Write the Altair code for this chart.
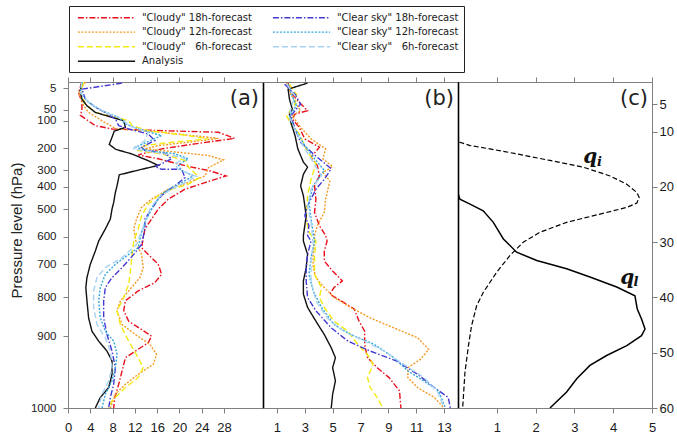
import altair as alt
import pandas as pd

# ---------------- series definitions ----------------
SERIES = ['"Cloudy" 18h-forecast', '"Cloudy" 12h-forecast', '"Cloudy" \u20076h-forecast', 'Analysis',
          '"Clear sky" 18h-forecast', '"Clear sky" 12h-forecast', '"Clear sky" \u20076h-forecast']
COLORS = ['#e8101c', '#f59a25', '#f2ea12', '#111111', '#4338d2', '#35a7dc', '#a9d3f2']
DASHES = [[6, 2, 1.5, 2], [2, 1.5], [6, 3], [1, 0], [6, 2, 1.5, 2], [2, 1.5], [6, 3]]

# y axis: model level (1 = top, 60 = bottom); left axis shows pressure labels
PRESSURE_LABELS = [5, 50, 100, 200, 300, 400, 500, 600, 700, 800, 900, 1000]
PRESSURE_LEVELS = [2.1, 6, 8, 13, 17, 20, 24, 29, 34, 40, 47, 60]
LEVEL_TICKS = [5, 10, 20, 30, 40, 50, 60]

A_TICKS = [0, 4, 8, 12, 16, 20, 24, 28]
B_TICKS = [1, 3, 5, 7, 9, 11, 13]
C_TICKS = [1, 2, 3, 4, 5]

# ---------------- panel (a): (value, model level) ----------------
A_CLOUDY18 = [(2.5,1.0),(1.9,2.9),(2.5,4.7),(2.5,6.2),(2.2,7.0),(4.9,8.9),(7.9,9.5),(16.8,9.8),(27.0,10.1),(29.9,11.2),
              (22.8,12.2),(16.8,13.1),(12.6,14.2),(16.2,14.9),(21.6,16.3),(25.2,17.0),(28.4,18.0),(24.6,19.2),(21.0,20.4),
              (18.0,22.2),(16.2,24.0),(15.0,25.8),(13.8,27.6),(13.2,31.0),(14.4,32.2),(16.2,34.0),(16.8,35.8),(15.6,37.3),
              (12.6,38.8),(10.3,40.6),(10.0,42.4),(10.9,44.3),(13.2,45.8),(15.0,47.0),(14.4,48.2),(12.1,49.7),(10.3,50.9),
              (9.7,53.3),(9.1,55.7),(8.4,58.1),(8.2,60.0)]
A_CLEAR18 = [(9.7,1.2),(2.5,2.3),(3.1,4.1),(4.9,5.6),(6.7,6.5),(8.5,7.7),(9.1,8.9),(10.9,9.5),(14.4,10.4),(15.6,11.6),
             (13.2,12.8),(13.8,13.4),(17.4,13.9),(18.6,14.9),(16.8,15.8),(15.6,16.3),(16.8,16.8),(20.4,16.8),(21.0,18.3),
             (19.2,19.8),(17.4,21.0),(16.2,22.2),(15.0,24.0),(13.8,25.8),(13.8,27.6),(13.2,30.4),(11.8,32.2),(9.7,34.6),
             (7.9,36.4),(6.7,38.2),(6.4,40.6),(6.4,43.7),(7.0,46.7),(7.9,49.7),(8.5,52.7),(8.2,55.7),(7.6,58.1),(7.3,60.0)]
A_CLOUDY12 = [(3.1,1.0),(1.9,2.9),(2.8,5.3),(3.7,6.5),(6.1,8.0),(8.5,9.4),(16.8,10.1),(27.0,11.2),(21.6,11.9),(16.2,12.5),
              (13.8,13.1),(18.6,13.6),(25.2,14.3),(27.9,15.1),(25.2,16.5),(24.6,18.0),(21.6,19.2),(18.0,20.4),(15.0,22.2),
              (13.2,23.7),(12.3,25.8),(11.8,27.6),(12.3,30.4),(13.2,32.2),(13.5,34.6),(12.9,36.4),(10.9,38.8),(9.4,40.6),
              (8.8,42.4),(9.7,44.9),(12.1,46.7),(14.7,48.5),(15.9,50.3),(15.3,52.1),(12.6,53.9),(10.3,55.7),(8.5,57.5),(7.6,60.0)]
A_CLEAR12 = [(2.5,1.0),(2.2,2.9),(3.7,4.7),(6.1,6.2),(9.1,7.4),(10.3,8.6),(12.6,9.5),(16.8,10.7),(12.1,12.8),(14.4,13.4),
             (19.2,14.0),(21.6,14.9),(19.8,16.0),(20.4,17.0),(22.5,18.0),(20.4,19.2),(18.6,20.1),(16.8,21.3),(15.3,23.4),
             (14.1,25.8),(13.2,28.2),(12.6,31.0),(10.9,32.2),(8.5,34.0),(6.7,35.8),(5.8,38.2),(5.5,40.6),(5.8,43.7),(6.7,46.1),
             (8.2,47.9),(8.8,50.3),(8.5,52.7),(7.9,55.1),(6.7,57.5),(6.1,60.0)]
A_CLOUDY6 = [(2.8,1.0),(2.2,2.9),(3.1,5.0),(4.9,6.5),(8.5,7.4),(10.9,8.0),(11.5,8.9),(14.4,9.8),(21.6,10.7),(25.2,11.3),
             (18.6,11.9),(13.8,12.5),(12.6,13.4),(16.8,14.0),(21.0,15.2),(21.6,16.4),(23.6,18.3),(21.6,19.5),(18.6,20.4),
             (16.2,21.6),(14.4,23.1),(13.2,25.2),(12.6,27.6),(11.8,29.8),(11.5,32.2),(11.2,35.2),(10.9,37.6),(10.0,40.0),
             (8.8,42.4),(9.4,44.9),(10.9,47.9),(12.6,50.9),(13.5,52.7),(12.6,54.5),(10.3,56.3),(7.9,58.7),(7.3,60.0)]
A_CLEAR6 = [(2.5,1.0),(2.2,2.9),(4.0,5.0),(6.7,6.5),(9.7,7.7),(10.9,8.9),(14.4,10.1),(13.8,11.6),(11.8,13.1),(16.8,13.9),
            (21.0,14.8),(19.2,15.8),(19.8,16.8),(23.1,18.1),(21.0,19.2),(18.6,20.4),(16.2,21.9),(14.7,24.0),(13.8,26.4),
            (12.9,28.8),(12.3,30.4),(9.7,32.8),(6.7,34.6),(5.2,36.4),(4.6,38.8),(4.6,41.8),(5.2,44.9),(6.7,47.3),(7.6,49.7),
            (7.9,52.7),(7.3,55.1),(6.1,57.5),(5.5,60.0)]
A_ANALYSIS = [(2.5,1.0),(2.2,2.6),(2.5,4.1),(3.4,5.3),(4.9,6.5),(7.9,7.4),(10.0,8.0),(10.3,9.2),(8.3,9.9),(7.9,11.0),
              (7.4,12.3),(8.6,13.2),(11.4,14.0),(14.3,15.2),(16.2,16.1),(12.8,16.9),(9.2,17.8),(8.8,19.8),(8.5,21.0),
              (8.2,22.8),(7.9,24.0),(7.6,25.8),(6.7,27.6),(5.5,29.8),(4.9,31.6),(4.0,34.0),(3.4,36.4),(3.2,38.2),(3.4,40.6),
              (3.7,43.7),(4.3,46.1),(5.5,47.9),(7.0,49.7),(7.9,51.5),(7.9,53.9),(7.3,56.3),(5.8,58.1),(4.9,60.0)]

# ---------------- panel (b) ----------------
B_CLOUDY18 = [(1.8,1.2),(2.0,2.9),(2.5,4.4),(3.2,6.2),(2.3,6.8),(2.1,7.7),(2.6,9.2),(3.0,11.3),(4.05,12.8),(3.45,14.6),
              (3.9,16.1),(4.05,18.0),(3.7,19.8),(3.8,22.2),(3.7,24.6),(4.05,27.0),(4.5,28.8),(4.6,29.8),(4.4,31.6),(4.4,33.4),
              (5.0,35.2),(5.7,37.0),(5.1,38.2),(4.8,39.4),(5.6,40.6),(6.55,42.1),(6.9,44.3),(7.3,46.1),(7.3,48.5),(7.5,50.9),
              (8.2,52.7),(9.05,54.5),(9.8,56.9),(9.9,60.0)]
B_CLEAR18 = [(1.55,1.4),(2.3,3.2),(2.7,5.0),(2.0,7.1),(2.3,9.5),(2.7,11.9),(3.6,14.0),(4.9,16.7),(4.4,18.6),(3.8,20.4),
             (3.2,23.4),(3.0,25.2),(3.3,27.0),(3.2,28.8),(3.45,29.8),(3.2,32.2),(3.1,34.6),(3.1,37.0),(3.2,40.0),(3.8,42.4),
             (4.9,45.5),(6.1,47.9),(7.7,49.7),(9.6,51.5),(11.1,53.9),(12.3,56.3),(13.3,58.1),(13.45,60.0)]
B_CLOUDY12 = [(1.7,1.2),(2.0,3.2),(2.3,4.7),(2.7,6.2),(2.1,7.1),(2.7,9.2),(3.45,11.3),(4.5,13.1),(4.3,14.9),(5.0,16.3),
              (4.3,17.4),(4.8,18.9),(4.5,22.2),(4.4,24.6),(3.9,27.0),(3.7,28.8),(3.7,29.8),(3.6,32.2),(3.6,34.6),(3.8,36.4),
              (4.4,38.2),(5.1,40.0),(6.3,41.8),(7.7,43.7),(9.4,45.5),(11.1,47.3),(11.9,49.4),(11.3,51.2),(10.4,52.7),
              (10.4,54.5),(11.1,56.3),(12.3,58.1),(13.0,60.0)]
B_CLEAR12 = [(1.8,1.4),(2.1,3.5),(2.4,5.3),(1.9,7.1),(2.3,9.5),(3.0,12.5),(3.7,14.9),(4.4,17.0),(3.6,19.8),(3.3,22.8),
             (3.45,25.8),(3.6,28.2),(3.7,29.8),(3.45,32.8),(3.3,35.8),(3.6,38.8),(4.2,41.8),(5.1,44.9),(6.3,46.7),(8.0,48.5),
             (9.4,50.9),(10.4,53.3),(11.55,55.1),(12.6,56.9),(13.1,60.0)]
B_CLOUDY6 = [(1.9,1.4),(2.4,3.2),(2.3,5.0),(1.7,7.1),(2.0,8.6),(2.6,10.4),(3.2,13.7),(3.8,15.8),(3.45,18.6),(3.2,21.6),
             (3.1,25.8),(3.3,28.2),(3.8,29.8),(3.7,32.8),(3.7,35.8),(4.2,38.2),(4.05,40.0),(4.4,41.8),(5.1,44.3),(6.1,46.1),
             (6.8,48.5),(7.5,50.3),(7.9,52.1),(7.5,54.5),(7.7,56.3),(8.2,58.1),(8.6,60.0)]
B_CLEAR6 = [(1.7,1.4),(2.3,3.5),(2.0,5.9),(1.9,7.4),(2.4,10.1),(3.0,13.1),(3.6,15.5),(4.2,18.0),(3.45,20.4),(3.2,23.4),
            (3.45,26.4),(3.6,30.3),(3.45,33.4),(3.45,37.0),(3.8,40.6),(4.6,43.7),(5.8,46.1),(7.3,47.9),(8.7,49.7),(10.1,52.1),
            (11.55,54.5),(12.5,56.9),(13.0,60.0)]
B_ANALYSIS = [(3.2,1.2),(1.8,2.3),(1.9,4.1),(2.1,5.9),(1.9,6.8),(2.0,8.3),(2.3,10.7),(2.5,13.1),(2.9,15.5),(3.2,16.4),
              (2.9,17.7),(2.7,19.8),(2.9,21.6),(3.0,23.4),(3.1,25.2),(3.0,27.0),(2.9,28.8),(2.9,29.8),(3.2,32.2),(3.1,34.6),
              (2.9,37.0),(2.9,39.4),(3.2,41.8),(3.8,44.3),(4.4,46.7),(4.9,49.1),(5.2,50.9),(5.0,52.7),(5.2,55.1),(5.0,57.5),
              (4.9,60.0)]

# ---------------- panel (c): cloud ice / liquid profiles ----------------
C_QI = [(0,1),(0,11.0),(0.05,11.9),(0.31,12.5),(0.82,13.1),(1.51,14.0),(2.37,15.2),(3.22,16.4),(3.92,18.0),(4.35,19.5),
        (4.61,21.0),(4.67,21.9),(4.61,22.9),(4.35,23.7),(3.66,24.9),(2.80,26.4),(2.11,28.2),(1.68,30.0),(1.34,32.4),
        (1.00,35.4),(0.65,39.1),(0.48,41.5),(0.35,45.1),(0.27,48.7),(0.18,53.5),(0.12,60)]
C_QL = [(0,1),(0,21.2),(0.05,22.2),(0.31,23.1),(0.65,24.3),(0.91,26.4),(1.17,29.4),(1.51,31.8),(2.03,33.3),(2.80,34.8),
        (3.40,36.3),(4.09,38.1),(4.56,39.7),(4.62,42.1),(4.73,43.9),(4.82,45.7),(4.73,46.9),(4.35,48.7),(3.83,50.5),
        (3.40,52.3),(3.06,54.7),(2.80,57.1),(2.37,60)]
Q_TEXT = ['q', 'q']
Q_X = [3.23, 4.18]
Q_LEV = [15.66, 37.56]
SUB_TEXT = ['i', 'l']
SUB_X = [3.58, 4.52]
SUB_LEV = [16.26, 37.98]

PANEL_LABELS = ['(a)', '(b)', '(c)']

# ---------------- build tables ----------------
def frame(named):
    rows = []
    for name, pts in named:
        for i, (x, lev) in enumerate(pts):
            rows.append({'series': name, 'x': x, 'level': lev, 'i': i})
    return pd.DataFrame(rows)

df_a = frame(zip(SERIES, [A_CLOUDY18, A_CLOUDY12, A_CLOUDY6, A_ANALYSIS, A_CLEAR18, A_CLEAR12, A_CLEAR6]))
df_b = frame(zip(SERIES, [B_CLOUDY18, B_CLOUDY12, B_CLOUDY6, B_ANALYSIS, B_CLEAR18, B_CLEAR12, B_CLEAR6]))
df_qi = frame([('qi', C_QI)])
df_ql = frame([('ql', C_QL)])
df_q = pd.DataFrame({'t': Q_TEXT, 'x': Q_X, 'level': Q_LEV})
df_sub = pd.DataFrame({'t': SUB_TEXT, 'x': SUB_X, 'level': SUB_LEV})

GREY = '#7f7f7f'
W_A, W_B, W_C, H = 195, 195, 194, 326

y_scale = alt.Scale(domain=[1, 60], reverse=True, nice=False, zero=False)
xa_scale = alt.Scale(domain=[0, 35], nice=False, zero=False)
xb_scale = alt.Scale(domain=[0, 14], nice=False, zero=False)
xc_scale = alt.Scale(domain=[0, 5], nice=False, zero=False)

def bottom_axis(vals):
    return alt.Axis(orient='bottom', values=vals, title=None, format='d', labelPadding=8)

def top_axis(vals):
    return alt.Axis(orient='top', values=vals, title=None, labels=False)

black_right = alt.Axis(orient='right', labels=False, ticks=False, title=None,
                       domainColor='black', domainWidth=1.6)

label_expr = ' : '.join(f"datum.value == {lv} ? '{p}'" for lv, p in zip(PRESSURE_LEVELS, PRESSURE_LABELS)) + " : ''"
left_axis = alt.Axis(orient='left', values=PRESSURE_LEVELS, labelExpr=label_expr, labelPadding=7, labelFontSize=11.5,
                     title='Pressure level (hPa)', titleFont='Liberation Sans', titleFontSize=15,
                     titleFontWeight='normal', titleColor='#222222', titleX=-52, titleY=148,
                     titleAngle=270, titleAlign='center', titleBaseline='middle')

# long horizontal stroke symbol with compact row height
legend_def = alt.Legend(title=None, orient='none', legendX=1, legendY=-76, columns=2, direction='vertical',
                        symbolType='M-5.2,0H5.2', symbolSize=121, symbolStrokeWidth=1.4, symbolOffset=26,
                        labelFont='DejaVu Sans', labelFontSize=10, labelColor='#222222',
                        labelOffset=29, strokeColor='#222222', fillColor='white', padding=5,
                        columnPadding=17, rowPadding=2.6)

color_enc = alt.Color('series:N', scale=alt.Scale(domain=SERIES, range=COLORS), legend=legend_def)
dash_enc = alt.StrokeDash('series:N', scale=alt.Scale(domain=SERIES, range=DASHES), legend=legend_def)


def panel_label(text, width):
    return alt.Chart(pd.DataFrame({'t': [text]})).mark_text(
        align='right', baseline='middle', font='DejaVu Sans', fontSize=21, color='#222222'
    ).encode(x=alt.value(width - 4), y=alt.value(17), text='t:N')


# panel (a)
lines_a = alt.Chart(df_a).mark_line(strokeWidth=1.4, clip=True).encode(
    x=alt.X('x:Q', scale=xa_scale, axis=bottom_axis(A_TICKS)),
    y=alt.Y('level:Q', scale=y_scale, axis=left_axis),
    color=color_enc, strokeDash=dash_enc, order='i:Q')
frame_a = alt.Chart(df_a).mark_line(opacity=0).encode(
    x=alt.X('x:Q', scale=xa_scale, axis=top_axis(A_TICKS)),
    y=alt.Y('level:Q', scale=y_scale, axis=black_right),
    detail='series:N', order='i:Q')
panel_a = alt.layer(lines_a, frame_a, panel_label(PANEL_LABELS[0], W_A)).resolve_axis(
    x='independent', y='independent').properties(width=W_A, height=H)

# panel (b)
lines_b = alt.Chart(df_b).mark_line(strokeWidth=1.4, clip=True).encode(
    x=alt.X('x:Q', scale=xb_scale, axis=bottom_axis(B_TICKS)),
    y=alt.Y('level:Q', scale=y_scale, axis=None),
    color=color_enc, strokeDash=dash_enc, order='i:Q')
frame_b = alt.Chart(df_b).mark_line(opacity=0).encode(
    x=alt.X('x:Q', scale=xb_scale, axis=top_axis(B_TICKS)),
    y=alt.Y('level:Q', scale=y_scale, axis=black_right),
    detail='series:N', order='i:Q')
panel_b = alt.layer(lines_b, frame_b, panel_label(PANEL_LABELS[1], W_B)).resolve_axis(
    x='independent', y='independent').properties(width=W_B, height=H)

# panel (c)
right_axis = alt.Axis(orient='right', values=LEVEL_TICKS, title=None, labelPadding=2, format='d')
qi_line = alt.Chart(df_qi).mark_line(color='black', strokeWidth=1.2, strokeDash=[5, 2.5], clip=True).encode(
    x=alt.X('x:Q', scale=xc_scale, axis=bottom_axis(C_TICKS)),
    y=alt.Y('level:Q', scale=y_scale, axis=right_axis),
    order='i:Q')
ql_line = alt.Chart(df_ql).mark_line(color='black', strokeWidth=1.5, clip=True).encode(
    x=alt.X('x:Q', scale=xc_scale, axis=None),
    y=alt.Y('level:Q', scale=y_scale, axis=None),
    order='i:Q')
frame_c = alt.Chart(df_qi).mark_line(opacity=0).encode(
    x=alt.X('x:Q', scale=xc_scale, axis=top_axis(C_TICKS)),
    y=alt.Y('level:Q', scale=y_scale, axis=None),
    order='i:Q')
q_text = alt.Chart(df_q).mark_text(align='left', baseline='alphabetic', font='DejaVu Serif',
                                   fontStyle='italic', fontWeight='bold', fontSize=20, color='#111111').encode(
    x=alt.X('x:Q', scale=xc_scale, axis=None), y=alt.Y('level:Q', scale=y_scale, axis=None), text='t:N')
sub_text = alt.Chart(df_sub).mark_text(align='left', baseline='alphabetic', font='DejaVu Serif',
                                       fontStyle='italic', fontWeight='bold', fontSize=13, color='#111111').encode(
    x=alt.X('x:Q', scale=xc_scale, axis=None), y=alt.Y('level:Q', scale=y_scale, axis=None), text='t:N')
panel_c = alt.layer(qi_line, ql_line, frame_c, q_text, sub_text, panel_label(PANEL_LABELS[2], W_C)).resolve_axis(
    x='independent', y='independent').properties(width=W_C, height=H)

chart = alt.hconcat(panel_a, panel_b, panel_c, spacing=0, bounds='flush').resolve_scale(
    color='shared', strokeDash='shared').resolve_legend(color='shared', strokeDash='shared').properties(
    padding={'left': 9, 'top': 5, 'right': 0, 'bottom': 0}
).configure_view(strokeWidth=0).configure_axis(
    grid=False, domainColor=GREY, tickColor=GREY, tickSize=5, domainWidth=1, tickWidth=1,
    labelFlush=False, labelOverlap=False, labelFont='Liberation Sans', labelFontSize=13, labelColor='#1a1a1a'
)

chart.save("out.html", embed_options={"renderer": "svg", "actions": False})
